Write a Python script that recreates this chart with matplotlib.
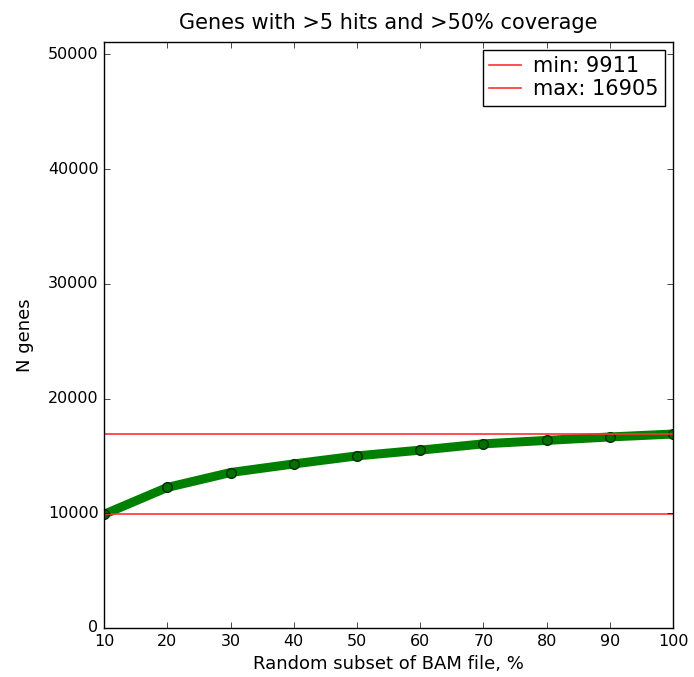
import matplotlib
matplotlib.use("Agg")
import matplotlib.pyplot as plt

# =====================================================
# DATA
# =====================================================

subset_pct = [10, 20, 30, 40, 50, 60, 70, 80, 90, 100]
n_genes = [9911, 12250, 13550, 14300, 15000, 15500, 16050, 16350, 16650, 16905]
min_genes = 9911
max_genes = 16905

# =====================================================
# PLOT
# =====================================================

plt.style.use("classic")

fig = plt.figure(figsize=(6.94, 6.77), dpi=100, facecolor="white")
ax = fig.add_axes([0.150, 0.0724, 0.820, 0.866])

ax.plot(subset_pct, n_genes, color="green", linewidth=6.5,
        marker="o", markersize=7, markerfacecolor="#007000",
        markeredgecolor="#003000", markeredgewidth=1)
ax.axhline(min_genes, color="#ff3030", linewidth=1.2, label="min: %d" % min_genes)
ax.axhline(max_genes, color="#ff3030", linewidth=1.2, label="max: %d" % max_genes)

ax.set_xlim(10, 100)
ax.set_ylim(0, 51100)
ax.set_xticks(subset_pct)
ax.set_yticks([0, 10000, 20000, 30000, 40000, 50000])

ax.set_title("Genes with >5 hits and >50% coverage", fontsize=15, y=1.01)
ax.set_xlabel("Random subset of BAM file, %", fontsize=13)
ax.set_ylabel("N genes", fontsize=13, labelpad=10)
ax.tick_params(labelsize=11.5)

ax.legend(loc="upper right", fontsize=15, numpoints=1, fancybox=False,
          handlelength=1.5, borderpad=0.3, labelspacing=0.15,
          handletextpad=0.6, borderaxespad=0.4)

plt.savefig("out.png", dpi=100, facecolor="white")
plt.close()
